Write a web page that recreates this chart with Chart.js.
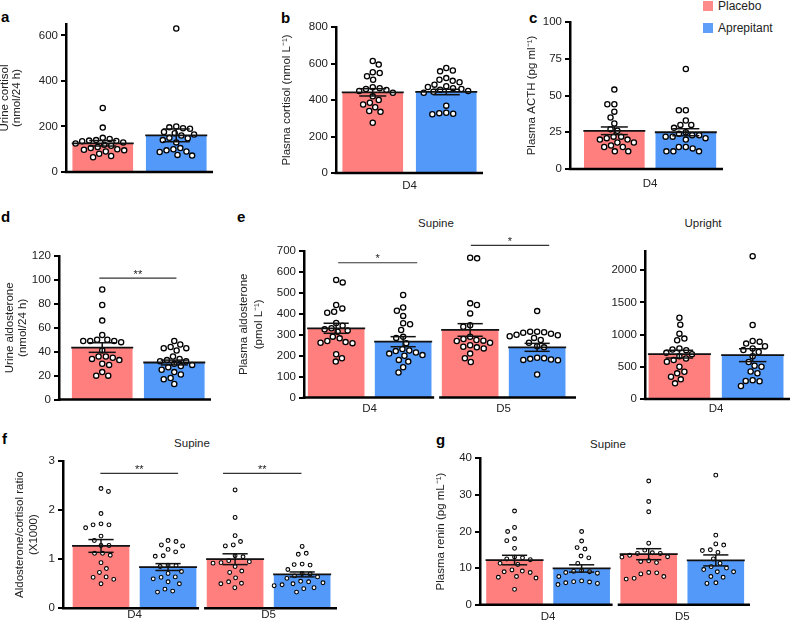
<!DOCTYPE html>
<html>
<head>
<meta charset="utf-8">
<script src="https://cdn.jsdelivr.net/npm/chart.js@4.4.1/dist/chart.umd.min.js"></script>
<style>
  body { margin: 0; background: #fff; font-family: "Liberation Sans", Arial, sans-serif; }
  #fig { position: relative; width: 791px; height: 624px; overflow: hidden; }
  #fig canvas { position: absolute; }
  .lab { position: absolute; font-weight: bold; font-size: 15px; line-height: 15px; color: #000; }
  .sub { position: absolute; font-size: 11.5px; color: #222; transform: translate(-50%, -50%); white-space: nowrap; }
  .sw { position: absolute; width: 10px; height: 10px; }
  .leg { position: absolute; font-size: 12px; line-height: 12px; color: #222; white-space: nowrap; }
</style>
</head>
<body>
<div id="fig">
  <div class="lab" style="left:1px;top:9px">a</div>
  <div class="lab" style="left:281px;top:10px">b</div>
  <div class="lab" style="left:529px;top:10px">c</div>
  <div class="lab" style="left:1px;top:209px">d</div>
  <div class="lab" style="left:237px;top:209px">e</div>
  <div class="lab" style="left:2px;top:431px">f</div>
  <div class="lab" style="left:436px;top:432px">g</div>

  <div class="sub" style="left:436px;top:223px">Supine</div>
  <div class="sub" style="left:703px;top:223px">Upright</div>
  <div class="sub" style="left:192px;top:443px">Supine</div>
  <div class="sub" style="left:608px;top:444px">Supine</div>

  <div class="sw" style="left:703px;top:1px;background:#FF8A8A"></div>
  <div class="leg" style="left:718px;top:0px">Placebo</div>
  <div class="sw" style="left:703px;top:23px;background:#5E9FFA"></div>
  <div class="leg" style="left:718px;top:22px">Aprepitant</div>
</div>
<script>
// ============ DATA ============
// a: urine cortisol (nmol/24 h)
const aTicks = [0, 200, 400, 600];
const aPlacebo = [281, 195, 150, 145, 140, 138, 136, 135, 130, 125, 120, 115, 110, 105, 100, 98, 95, 90, 80, 70, 65];
const aAprepitant = [630, 200, 196, 192, 190, 176, 170, 165, 160, 150, 148, 140, 130, 105, 100, 95, 90, 88, 75, 72];
const aMean = [126, 161];
const aSem = [12, 28];

// b: plasma cortisol D4
const bTicks = [0, 200, 400, 600, 800];
const bPlacebo = [614, 594, 552, 548, 530, 511, 470, 465, 460, 455, 450, 440, 420, 400, 385, 375, 360, 340, 335, 275];
const bAprepitant = [575, 562, 557, 520, 511, 505, 497, 484, 475, 471, 465, 460, 456, 450, 445, 440, 369, 330, 328, 325, 322];
const bMean = [442, 444];
const bSem = [20, 15];

// c: plasma ACTH D4
const cTicks = [0, 25, 50, 75, 100];
const cPlacebo = [54, 44, 44, 39, 35, 31, 27, 26, 22, 22, 21, 20, 20, 18, 18, 16, 15, 15, 12, 12];
const cAprepitant = [68, 40, 40, 33, 30, 30, 28, 25, 24, 23, 23, 22, 22, 21, 20, 15, 15, 14, 12, 12, 12];
const cMean = [26, 25];
const cSem = [2.6, 2.4];

// d: urine aldosterone
const dTicks = [0, 20, 40, 60, 80, 100, 120];
const dPlacebo = [92, 79, 66, 54, 50, 50, 49, 49, 49, 48, 41, 36, 36, 35, 34, 33, 30, 29, 23, 20, 20];
const dAprepitant = [49, 46, 44, 43, 43, 41, 36, 34, 33, 32, 32, 30, 29, 28, 27, 25, 23, 21, 18, 17, 13];
const dMean = [43.5, 31];
const dSem = [4, 2];

// e: plasma aldosterone, supine D4 / D5 and upright D4
const dayLabels = ['D4', 'D5'];
const eTicks = [0, 100, 200, 300, 400, 500, 600, 700];
const ePlaceboD4 = [562, 550, 442, 426, 410, 405, 356, 343, 331, 326, 320, 315, 291, 283, 270, 265, 262, 260, 207, 188, 172];
const eAprepitantD4 = [490, 430, 415, 390, 355, 350, 323, 290, 285, 260, 232, 225, 222, 215, 210, 203, 200, 180, 172, 145, 120];
const ePlaceboD5 = [668, 665, 450, 442, 402, 345, 338, 290, 280, 275, 272, 270, 262, 250, 243, 240, 235, 210, 188, 170];
const eAprepitantD5 = [413, 315, 315, 312, 310, 305, 300, 298, 293, 285, 275, 262, 245, 240, 190, 188, 185, 182, 180, 178, 110];
const eMeanD4 = [331, 267];
const eSemD4 = [24, 24];
const eMeanD5 = [323, 240];
const eSemD5 = [30, 19];
const uTicks = [0, 500, 1000, 1500, 2000];
const uPlacebo = [1263, 1155, 1015, 938, 912, 784, 768, 758, 716, 696, 665, 629, 603, 577, 500, 423, 397, 345, 304, 242];
const uAprepitant = [2220, 1150, 900, 890, 860, 820, 785, 760, 730, 665, 575, 515, 500, 425, 400, 290, 280, 275, 200];
const uMean = [696, 680];
const uSem = [60, 100];

// f: aldosterone/cortisol ratio, supine
const fTicks = [0, 1, 2, 3];
const fPlaceboD4 = [2.44, 2.38, 1.93, 1.72, 1.70, 1.70, 1.64, 1.47, 1.38, 1.28, 1.28, 1.12, 1.12, 1.08, 0.93, 0.81, 0.73, 0.64, 0.63, 0.59, 0.50];
const fAprepitantD4 = [1.38, 1.36, 1.29, 1.27, 1.20, 1.15, 1.07, 1.06, 0.88, 0.87, 0.85, 0.75, 0.71, 0.64, 0.63, 0.60, 0.54, 0.50, 0.39, 0.35, 0.33];
const fPlaceboD5 = [2.41, 1.85, 1.48, 1.36, 1.29, 1.27, 1.07, 1.05, 0.97, 0.95, 0.93, 0.92, 0.85, 0.76, 0.73, 0.62, 0.54, 0.51, 0.50, 0.42];
const fAprepitantD5 = [1.26, 1.12, 1.10, 0.90, 0.89, 0.88, 0.79, 0.71, 0.70, 0.66, 0.64, 0.61, 0.55, 0.54, 0.52, 0.50, 0.48, 0.46, 0.42, 0.40, 0.33];
const fMeanD4 = [1.27, 0.84];
const fSemD4 = [0.13, 0.07];
const fMeanD5 = [1.0, 0.69];
const fSemD5 = [0.11, 0.05];

// g: plasma renin, supine
const gTicks = [0, 10, 20, 30, 40];
const gPlaceboD4 = [25.6, 21.1, 20, 18, 17.5, 15.4, 13, 12.8, 12.5, 12.3, 11.3, 11, 9.5, 9.2, 9, 8.8, 7.7, 7.5, 7.3, 4.2];
const gAprepitantD4 = [20, 17.4, 15.6, 15.2, 13.3, 12.8, 11.3, 9.3, 9.1, 9, 8.8, 8.6, 7.7, 6.5, 6.3, 6.2, 6, 5.8, 5.5];
const gPlaceboD5 = [33.8, 28.2, 25.4, 16.8, 14.9, 14.2, 14, 14, 13.5, 13.1, 13, 12, 11.8, 11.5, 8.8, 8.7, 8.4, 7.7, 7.2, 7];
const gAprepitantD5 = [35.4, 19, 16.6, 16.3, 15, 14.8, 14.3, 12.5, 11.3, 10.4, 10, 9.6, 9, 9, 7.7, 7.5, 6, 5.8];
const gMeanD4 = [12.2, 9.9];
const gSemD4 = [1.3, 1.0];
const gMeanD5 = [13.8, 12.1];
const gSemD5 = [1.5, 1.5];

// ============ STYLE ============
const RED = '#FF7F7F';
const BLUE = '#5299F9';
const FONT = '"Liberation Sans", Arial, sans-serif';

// box = canvas [left, top, w, h]; area = wanted chart area [L, T, R, B]
const panels = [
  { box: [-1, 0, 221, 195], area: [66, 24, 213, 172], yMax: 650, ticks: aTicks, xRange: [-0.5, 1.5], barW: 60, r: 2.6, D: 7,
    title: ['Urine cortisol', '(nmol/24 h)'], titleLH: 1.05, titlePad: 0,
    groups: [{ dots: [aPlacebo, aAprepitant], mean: aMean, sem: aSem }], labels: [], labelDy: 0, sig: [] },
  { box: [270, 0, 225, 195], area: [336, 27, 483, 173], yMax: 800, ticks: bTicks, xRange: [-0.5, 1.5], barW: 60, r: 2.6, D: 7,
    title: 'Plasma cortisol (nmol L\u207B\u00B9)', titleLH: 1.13, titlePad: 10.5,
    groups: [{ dots: [bPlacebo, bAprepitant], mean: bMean, sem: bSem }], labels: ['D4'], labelDy: 13, sig: [] },
  { box: [515, 0, 215, 195], area: [570, 22, 723, 169], yMax: 100, ticks: cTicks, xRange: [-0.62, 1.52], barW: 60, r: 2.6, D: 7,
    title: 'Plasma ACTH (pg ml\u207B\u00B9)', titleLH: 1.13, titlePad: 10.2,
    groups: [{ dots: [cPlacebo, cAprepitant], mean: cMean, sem: cSem }], labels: ['D4'], labelDy: 15, sig: [] },
  { box: [0, 200, 220, 210], area: [59, 256, 211, 399.6], yMax: 120, ticks: dTicks, xRange: [-0.6, 1.51], barW: 60, r: 2.6, D: 7,
    title: ['Urine aldosterone', '(nmol/24 h)'], titleLH: 1.13, titlePad: 3.5,
    groups: [{ dots: [dPlacebo, dAprepitant], mean: dMean, sem: dSem }], labels: [], labelDy: 0,
    sig: [{ x: [-0.04, 1.03], y: 101.5, mark: '**' }] },
  { box: [225, 212, 355, 205], area: [304, 251, 576, 397.6], yMax: 700, ticks: eTicks, xRange: [-0.48, 3.58], barW: 56, r: 2.6, D: 7,
    title: ['Plasma aldosterone', '(pmol L\u207B\u00B9)'], titleLH: 1.25, titlePad: 11.8,
    groups: [{ dots: [ePlaceboD4, eAprepitantD4], mean: eMeanD4, sem: eSemD4 },
             { dots: [ePlaceboD5, eAprepitantD5], mean: eMeanD5, sem: eSemD5 }],
    labels: dayLabels, labelDy: 11.4,
    sig: [{ x: [0.03, 1.21], y: 644, mark: '*' }, { x: [2.01, 3.18], y: 727, mark: '*' }] },
  { box: [595, 212, 196, 205], area: [645, 251, 790, 398.9], yMax: 2300, ticks: uTicks, xRange: [-0.47, 1.51], barW: 61, r: 2.6, D: 7,
    title: '', titleLH: 1.1, titlePad: 0,
    groups: [{ dots: [uPlacebo, uAprepitant], mean: uMean, sem: uSem }], labels: ['D4'], labelDy: 10, sig: [] },
  { box: [0, 425, 345, 199], area: [63, 461, 337, 608.3], yMax: 3, ticks: fTicks, xRange: [-0.567, 3.52], barW: 56, r: 1.9, D: 8,
    title: ['Aldosterone/cortisol ratio', '(X1000)'], titleLH: 1.22, titlePad: 12.5,
    groups: [{ dots: [fPlaceboD4, fAprepitantD4], mean: fMeanD4, sem: fSemD4 },
             { dots: [fPlaceboD5, fAprepitantD5], mean: fMeanD5, sem: fSemD5 }],
    labels: dayLabels, labelDy: 7,
    sig: [{ x: [-0.01, 1.15], y: 2.75, mark: '**' }, { x: [1.82, 2.99], y: 2.75, mark: '**' }] },
  { box: [420, 425, 340, 199], area: [480, 458.3, 750, 604.7], yMax: 40, ticks: gTicks, xRange: [-0.515, 3.51], barW: 56, r: 1.9, D: 8,
    title: 'Plasma renin (pg mL\u207B\u00B9)', titleLH: 1.13, titlePad: 14.5,
    groups: [{ dots: [gPlaceboD4, gAprepitantD4], mean: gMeanD4, sem: gSemD4 },
             { dots: [gPlaceboD5, gAprepitantD5], mean: gMeanD5, sem: gSemD5 }],
    labels: dayLabels, labelDy: 11.8, sig: [] }
];

// ============ HELPERS ============
function line(ctx, x1, y1, x2, y2) {
  ctx.beginPath();
  ctx.moveTo(x1, y1);
  ctx.lineTo(x2, y2);
  ctx.stroke();
}

// simple beeswarm: each dot gets the smallest side offset that does not collide
function swarm(ys, D) {
  const pts = ys.map(y => ({ y: y, x: 0 }));
  const order = pts.slice().sort((a, b) => a.y - b.y);
  const placed = [];
  order.forEach((p, k) => {
    const blocked = [];
    placed.forEach(q => {
      const dy = Math.abs(q.y - p.y);
      if (dy < D) {
        const dx = Math.sqrt(D * D - dy * dy);
        blocked.push([q.x - dx, q.x + dx]);
      }
    });
    const cands = [0];
    blocked.forEach(b => cands.push(b[0], b[1]));
    const side = k % 2 ? 1 : -1;
    cands.sort((a, b) => (Math.abs(a) - Math.abs(b)) || (side * (b - a)));
    for (const c of cands) {
      if (blocked.every(b => c <= b[0] + 1e-6 || c >= b[1] - 1e-6)) { p.x = c; break; }
    }
    placed.push(p);
  });
  return pts;
}

// dots, error bars, split baseline, significance lines, group labels
function overlay(p) {
  return {
    id: 'overlay',
    afterDatasetsDraw(chart) {
      const ctx = chart.ctx;
      const xs = chart.scales.x;
      const ys = chart.scales.y;
      const area = chart.chartArea;
      const y0 = ys.getPixelForValue(0);
      const metas = [chart.getDatasetMeta(0), chart.getDatasetMeta(1)];
      const n = p.groups.length;
      ctx.save();

      // baseline, one segment per group
      ctx.strokeStyle = '#000';
      ctx.lineWidth = 2.5;
      p.groups.forEach((g, gi) => {
        const rb = metas[0].data[gi], bb = metas[1].data[gi];
        const x1 = gi === 0 ? area.left - 1.2 : rb.x - rb.width / 2 - 3;
        const x2 = gi === n - 1 ? area.right : bb.x + bb.width / 2 + 3;
        line(ctx, x1, y0, x2, y0);
      });

      // dots
      p.groups.forEach((g, gi) => {
        [0, 1].forEach(t => {
          const bar = metas[t].data[gi];
          const pts = swarm(g.dots[t].map(v => ys.getPixelForValue(v)), p.D);
          ctx.lineWidth = p.r > 2.2 ? 1.3 : 1.1;
          ctx.strokeStyle = '#000';
          ctx.fillStyle = '#fff';
          pts.forEach(pt => {
            ctx.beginPath();
            ctx.arc(bar.x + pt.x, pt.y, p.r, 0, Math.PI * 2);
            ctx.fill();
            ctx.stroke();
          });
        });
      });

      // mean +/- SEM
      ctx.strokeStyle = '#111';
      p.groups.forEach((g, gi) => {
        [0, 1].forEach(t => {
          const bar = metas[t].data[gi];
          const m = ys.getPixelForValue(g.mean[t]);
          const hi = ys.getPixelForValue(g.mean[t] + g.sem[t]);
          const lo = ys.getPixelForValue(g.mean[t] - g.sem[t]);
          const cw = bar.width * 0.45;
          ctx.lineWidth = 1.8;
          line(ctx, bar.x - bar.width / 2 - 1, m, bar.x + bar.width / 2 + 1, m);
          ctx.lineWidth = 1.5;
          line(ctx, bar.x, hi, bar.x, lo);
          line(ctx, bar.x - cw / 2, hi, bar.x + cw / 2, hi);
          line(ctx, bar.x - cw / 2, lo, bar.x + cw / 2, lo);
        });
      });

      // significance
      ctx.strokeStyle = '#333';
      ctx.lineWidth = 1.2;
      ctx.fillStyle = '#222';
      ctx.font = '11px ' + FONT;
      ctx.textAlign = 'center';
      ctx.textBaseline = 'alphabetic';
      p.sig.forEach(s => {
        const yy = ys.getPixelForValue(s.y);
        const xa = xs.getPixelForValue(s.x[0]), xb = xs.getPixelForValue(s.x[1]);
        line(ctx, xa, yy, xb, yy);
        ctx.fillText(s.mark, (xa + xb) / 2, yy - 0.5);
      });

      // group labels under the axis
      ctx.font = '11.5px ' + FONT;
      ctx.textBaseline = 'middle';
      p.labels.forEach((lab, gi) => {
        const x = (metas[0].data[gi].x + metas[1].data[gi].x) / 2;
        ctx.fillText(lab, x, y0 + p.labelDy);
      });
      ctx.restore();
    }
  };
}

// ============ BUILD PANELS ============
const fig = document.getElementById('fig');
panels.forEach(p => {
  const [cl, ct, cw, ch] = p.box;
  const [L, T, R, B] = p.area;
  const cv = document.createElement('canvas');
  cv.width = cw;
  cv.height = ch;
  cv.style.left = cl + 'px';
  cv.style.top = ct + 'px';
  fig.appendChild(cv);

  new Chart(cv, {
    type: 'bar',
    data: {
      datasets: [
        { label: 'Placebo', data: p.groups.map((g, i) => ({ x: 2 * i, y: g.mean[0] })),
          backgroundColor: RED, borderWidth: 0, grouped: false, barThickness: p.barW },
        { label: 'Aprepitant', data: p.groups.map((g, i) => ({ x: 2 * i + 1, y: g.mean[1] })),
          backgroundColor: BLUE, borderWidth: 0, grouped: false, barThickness: p.barW }
      ]
    },
    options: {
      responsive: false,
      animation: false,
      events: [],
      layout: { padding: { left: 0, top: T - ct, right: cl + cw - R, bottom: ct + ch - B } },
      plugins: { legend: { display: false }, tooltip: { enabled: false } },
      scales: {
        x: { type: 'linear', display: false, offset: false, grid: { offset: false },
             min: p.xRange[0], max: p.xRange[1] },
        y: {
          min: 0,
          max: p.yMax,
          afterFit: s => { s.width = L - cl; },
          afterBuildTicks: s => { s.ticks = p.ticks.map(v => ({ value: v })); },
          border: { display: true, color: '#000', width: 2.5 },
          grid: { drawOnChartArea: false, drawTicks: true, tickLength: 5, color: '#000', lineWidth: 2 },
          ticks: { padding: 3, color: '#222', font: { family: FONT, size: 11.5 }, callback: v => String(v) },
          title: { display: !!p.title, text: p.title, color: '#222',
                   padding: { top: p.titlePad, bottom: 0 },
                   font: { family: FONT, size: 11.5, lineHeight: p.titleLH } }
        }
      }
    },
    plugins: [overlay(p)]
  });
});
</script>
</body>
</html>
